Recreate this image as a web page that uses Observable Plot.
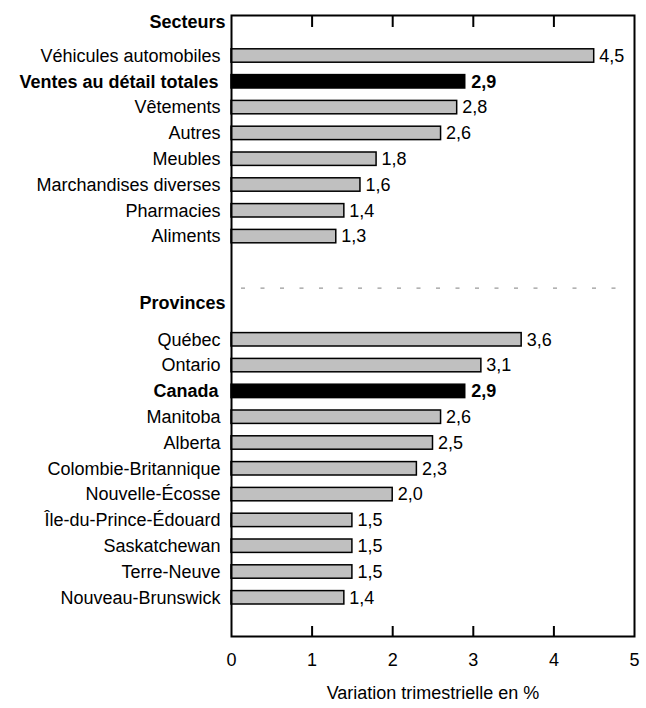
<!DOCTYPE html>
<html>
<head>
<meta charset="utf-8">
<script src="https://cdn.jsdelivr.net/npm/d3@7"></script>
<script src="https://cdn.jsdelivr.net/npm/@observablehq/plot@0.6"></script>
<style>
  html, body { margin: 0; padding: 0; background: #fff; }
  svg { font-family: "Liberation Sans", Arial, sans-serif; }
</style>
</head>
<body>
<div id="chart"></div>
<script>
const sectors = ["Véhicules automobiles", "Ventes au détail totales", "Vêtements", "Autres", "Meubles", "Marchandises diverses", "Pharmacies", "Aliments"];
const sectorValues = [4.5, 2.9, 2.8, 2.6, 1.8, 1.6, 1.4, 1.3];
const provinces = ["Québec", "Ontario", "Canada", "Manitoba", "Alberta", "Colombie-Britannique", "Nouvelle-Écosse", "Île-du-Prince-Édouard", "Saskatchewan", "Terre-Neuve", "Nouveau-Brunswick"];
const provinceValues = [3.6, 3.1, 2.9, 2.6, 2.5, 2.3, 2.0, 1.5, 1.5, 1.5, 1.4];
const totals = ["Ventes au détail totales", "Canada"];
const headers = ["Secteurs", "Provinces"];
const xTicks = [0, 1, 2, 3, 4, 5];
const xLabel = "Variation trimestrielle en %";

const rows = [
  ...sectors.map((name, i) => ({name, value: sectorValues[i]})),
  ...provinces.map((name, i) => ({name, value: provinceValues[i]}))
];
const normalRows = rows.filter(d => !totals.includes(d.name));
const totalRows = rows.filter(d => totals.includes(d.name));
const yDomain = [headers[0], ...sectors, "__gap1", "__sep", headers[1], ...provinces];
const fmt = v => d3.format(".1f")(v).replace(".", ",");
const FS = 18;

const chart = Plot.plot({
  width: 646,
  height: 708,
  marginTop: 15,
  marginBottom: 72,
  marginLeft: 231,
  marginRight: 12,
  style: {fontFamily: "'Liberation Sans', Arial, sans-serif", fontSize: FS + "px", color: "#000", background: "#fff"},
  x: {domain: [0, 5], ticks: xTicks},
  y: {type: "band", domain: yDomain, padding: 0, round: false, insetTop: 1.8, insetBottom: 25.8, axis: null},
  marks: [
    Plot.ruleY(["__sep"], {y: d => d, stroke: "#999", strokeWidth: 1.2, strokeDasharray: "4,15.5", insetLeft: 10, insetRight: 14}),
    Plot.barX(normalRows, {y: "name", x: "value", fill: "#c0c0c0", stroke: "#000", strokeWidth: 1.5, insetTop: 6.2, insetBottom: 6.2}),
    Plot.barX(totalRows, {y: "name", x: "value", fill: "#000", stroke: "#000", strokeWidth: 1.5, insetTop: 6.2, insetBottom: 6.2}),
    Plot.text(normalRows, {y: "name", x: "value", text: d => fmt(d.value), textAnchor: "start", dx: 5, fill: "#000", fontSize: FS}),
    Plot.text(totalRows, {y: "name", x: "value", text: d => fmt(d.value), textAnchor: "start", dx: 6, fill: "#000", fontSize: FS, fontWeight: "bold"}),
    Plot.text(normalRows, {y: "name", text: "name", frameAnchor: "left", textAnchor: "end", dx: -11, fill: "#000", fontSize: FS}),
    Plot.text(totalRows, {y: "name", text: "name", frameAnchor: "left", textAnchor: "end", dx: -13, fill: "#000", fontSize: FS, fontWeight: "bold"}),
    Plot.text([headers[0]], {y: d => d, text: d => d, frameAnchor: "left", textAnchor: "end", dx: -6, dy: -8, fill: "#000", fontSize: FS, fontWeight: "bold"}),
    Plot.text([headers[1]], {y: d => d, text: d => d, frameAnchor: "left", textAnchor: "end", dx: -6, dy: -11, fill: "#000", fontSize: FS, fontWeight: "bold"}),
    Plot.axisX({anchor: "top", ticks: xTicks.slice(1, -1), tickSize: -11, tickFormat: () => "", label: null, stroke: "#000", strokeWidth: 2}),
    Plot.axisX({anchor: "bottom", ticks: xTicks.slice(1, -1), tickSize: -10, tickFormat: () => "", label: null, stroke: "#000", strokeWidth: 2}),
    Plot.axisX({anchor: "bottom", ticks: xTicks, tickSize: 0, tickPadding: 17, tickFormat: d => String(d), label: null, fontSize: FS, fill: "#000"}),
    Plot.frame({stroke: "#000", strokeWidth: 2}),
    Plot.text([xLabel], {text: d => d, frameAnchor: "bottom", dy: 62, fill: "#000", fontSize: FS})
  ]
});
document.getElementById("chart").appendChild(chart);
</script>
</body>
</html>
